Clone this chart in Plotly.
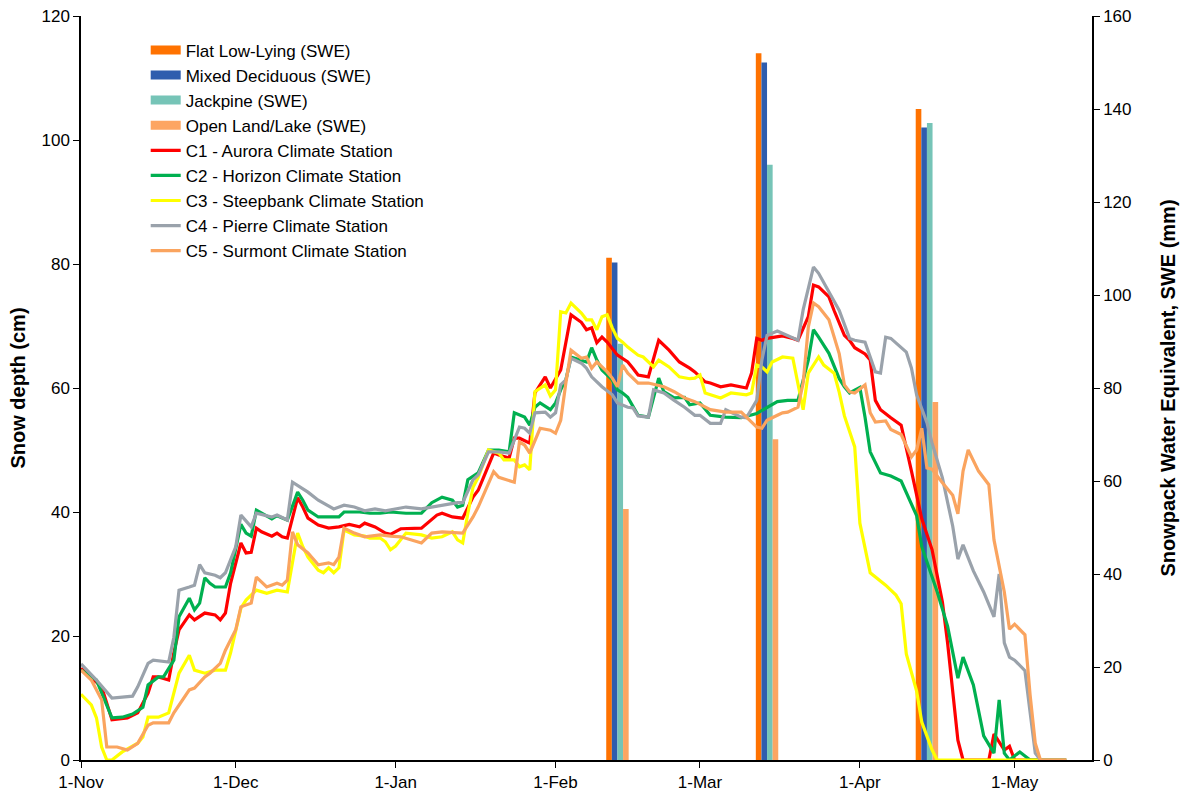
import pandas as pd
import plotly.graph_objects as go

BASE = pd.Timestamp("2008-11-01")

# ---- SWE survey bars (mm, right axis) ----
survey_dates = ["2009-02-13", "2009-03-14", "2009-04-14"]
swe_flat = [108, 152, 140]
swe_mixed = [107, 150, 136]
swe_jackpine = [89.5, 128, 137]
swe_open = [54, 69, 77]

# ---- Snow depth lines (cm, left axis); days since 1-Nov ----
c1_days = [0, 4, 6, 9, 11, 13, 14, 15, 17, 18, 19, 21, 22, 24, 26, 27, 28, 29, 31, 32, 33, 34, 35, 37, 38, 39, 40,
           42, 43, 44, 46, 48, 50, 52, 54, 55, 57, 59, 60, 62, 66, 69, 70, 72, 74, 76, 77, 79, 80, 81, 83, 84, 85, 87,
           88, 90, 91, 93, 94, 95, 97, 98, 99, 100, 101, 102, 104, 106, 107, 108, 110, 112, 114, 116, 118, 119, 121,
           122, 124, 126, 129, 130, 131, 132, 133, 136, 138, 139, 141, 142, 143, 145, 146, 147, 148, 149, 150, 152,
           153, 154, 155, 157, 159, 161, 163, 165, 167, 168, 170, 171, 176, 177, 179, 180, 181, 191]
c1_vals = [14.8, 11.8, 6.5, 6.8, 7.6, 10.8, 13.4, 13.4, 12.9, 17.3, 21, 23.4, 22.6, 23.7, 23.4, 22.6, 23.7, 28.5, 35,
           33.4, 33.5, 37.4, 36.8, 36.1, 36.6, 36, 35.8, 42.3, 40.8, 39, 37.9, 37.4, 37.6, 38, 37.6, 38.2, 37.6, 36.6,
           36.4, 37.3, 37.4, 39.5, 39.8, 39.2, 39, 42.4, 43.5, 47.3, 49.5, 49.2, 48.7, 51.9, 51.9, 51.1, 59.2, 61.8, 60,
           62.9, 67.3, 71.8, 70.6, 69.4, 69.7, 67.3, 68.2, 67.4, 65.3, 64.2, 63.2, 62.1, 61.8, 67.7, 66.1, 64.2, 63.2,
           62.6, 61, 60.8, 60.2, 60.5, 60, 62.4, 68, 67.7, 68, 68.4, 68, 67.7, 71.5, 76.6, 76.3, 74.7, 72.5, 70.5,
           68.5, 67.7, 66.5, 65.5, 64.5, 58, 56.5, 55.2, 54, 46.6, 38.9, 33.9, 25.5, 18.9, 3.2, 0, 0, 4.2, 1.6, 2.2,
           0, 0]

c2_days = [0, 3, 6, 8, 10, 12, 13, 15, 16, 18, 19, 21, 22, 23, 24, 25, 26, 28, 29, 30, 31, 32, 33, 34, 35, 37, 38, 40,
           42, 43, 44, 46, 48, 50, 51, 54, 56, 58, 60, 63, 66, 68, 70, 72, 73, 74, 75, 77, 79, 81, 83, 84, 86, 87, 88,
           89, 91, 92, 93, 94, 95, 97, 98, 99, 100, 101, 103, 104, 105, 106, 108, 110, 112, 113, 115, 117, 118, 120,
           122, 125, 128, 131, 133, 135, 137, 139, 141, 142, 143, 145, 147, 148, 149, 151, 152, 153, 155, 157, 159,
           162, 163, 166, 168, 170, 171, 173, 175, 177, 178, 179, 180, 182, 184, 191]
c2_vals = [14.5, 12.9, 6.8, 6.9, 7.4, 8.5, 12.1, 13.4, 13.4, 16.1, 23.1, 26.1, 24.2, 25.3, 29.4, 28.5, 27.9, 27.9,
           30.2, 33.9, 38, 36.6, 36.1, 40.3, 39.8, 38.9, 39.4, 38.7, 43.2, 41.9, 40.3, 39.2, 39.2, 39.2, 40, 40, 39.8,
           39.8, 40, 39.8, 39.8, 41.5, 42.4, 41.9, 40.8, 41.1, 45.2, 46.3, 50, 50, 49.7, 56, 55.3, 54, 56.9, 57.6,
           56.5, 57.6, 59.7, 61.3, 65, 64.5, 64.2, 66.5, 64.5, 62.9, 61.3, 59.7, 59.2, 58.5, 55.6, 55.3, 61.6, 59.4,
           58.4, 58.5, 57.3, 57.6, 55.6, 55.3, 55.2, 55.9, 56.8, 57.8, 58, 58, 64.5, 69.4, 68.2, 65.6, 61.5, 60.2,
           59.2, 60.1, 55.3, 49.7, 46.3, 45.8, 45, 39.4, 34.4, 27.1, 21.6, 13.2, 16.6, 12.1, 3.9, 1.1, 9.7, 1.1, 0,
           1.3, 0, 0]

c3_days = [0, 2, 3, 4, 5, 6, 8, 11, 12, 13, 15, 17, 19, 21, 22, 24, 26, 28, 29, 31, 32, 34, 36, 38, 40, 41, 42, 43,
           44, 46, 47, 48, 49, 50, 51, 53, 55, 56, 58, 59, 60, 61, 62, 63, 66, 68, 70, 72, 73, 74, 75, 76, 77, 79, 81,
           82, 84, 85, 86, 87, 88, 90, 91, 92, 93, 94, 95, 97, 98, 99, 100, 101, 102, 103, 104, 105, 106, 108, 109,
           111, 112, 114, 116, 118, 119, 120, 121, 122, 124, 126, 129, 130, 131, 132, 133, 134, 136, 138, 139, 140,
           141, 143, 144, 146, 147, 148, 150, 151, 153, 156, 158, 159, 160, 162, 163, 165, 166, 191]
c3_vals = [10.6, 8.9, 6.8, 2.1, 0, 0, 1.3, 2.7, 3.7, 6.9, 6.9, 7.6, 14, 16.9, 14.5, 14, 14.5, 14.5, 17.3, 24.5, 25.8,
           27.4, 26.9, 27.4, 27.1, 31.8, 36.6, 34.4, 32.7, 30.6, 30.2, 31, 30.2, 31, 37.1, 36.3, 36.1, 35.8, 35.8,
           35.2, 33.9, 34.5, 35.5, 36.6, 36.3, 35.8, 36, 36.8, 35.5, 35, 39.8, 44, 45.6, 50, 49.5, 48.4, 48.4, 47.3,
           47.6, 46.8, 59.4, 60.5, 58.7, 59.7, 72.3, 72.1, 73.7, 72.1, 71, 71, 69.4, 71.5, 71.8, 69.7, 68, 67.4, 66.6,
           65.3, 65, 63.4, 64.5, 63.4, 61.8, 61.5, 61.6, 62.1, 59.2, 58.9, 58.4, 59.2, 58.9, 59.2, 63.7, 63.4, 62.6,
           64.2, 65, 64.8, 60.8, 56.5, 62.4, 65, 63.7, 62.4, 59.3, 55.5, 50.5, 38.2, 30.2, 28.2, 26.6, 25.2, 17.1,
           11.1, 6.1, 1.6, 0, 0]

c4_days = [0, 3, 6, 8, 10, 11, 13, 14, 17, 18, 19, 21, 22, 23, 24, 26, 27, 28, 30, 31, 33, 34, 37, 38, 40, 41, 44, 46,
           49, 51, 53, 55, 57, 59, 61, 63, 66, 68, 70, 73, 74, 76, 77, 79, 81, 83, 85, 86, 87, 88, 90, 91, 92, 93, 94,
           95, 97, 98, 99, 101, 103, 104, 106, 107, 108, 110, 111, 113, 115, 117, 119, 120, 122, 124, 125, 128, 129,
           131, 132, 133, 135, 137, 139, 140, 142, 143, 145, 147, 149, 150, 152, 153, 154, 155, 156, 157, 160, 161,
           162, 164, 165, 167, 169, 170, 171, 173, 175, 177, 178, 179, 180, 181, 183, 184, 185, 186, 191]
c4_vals = [15.5, 12.9, 10, 10.2, 10.3, 11.8, 15.6, 16.1, 15.8, 19.8, 27.4, 27.9, 28.2, 31.5, 30.2, 29.8, 29.4, 30.2,
           34.4, 39.5, 37.6, 39.8, 39.2, 39.5, 38.7, 44.8, 43.2, 41.9, 40.5, 41.1, 40.8, 40.2, 40.5, 40.2, 40.5, 40.8,
           40.5, 40.8, 41.1, 41.5, 41.5, 45.2, 46, 49.7, 49.7, 49.5, 53.7, 53.5, 52.7, 56, 56.1, 55.3, 56, 60.5, 61.3,
           64.8, 64, 63.2, 61.8, 60.2, 58.9, 57.6, 56.9, 56.8, 55.5, 55.3, 59.7, 59.2, 58, 56.9, 55.6, 55.6, 54.3,
           54.3, 56.5, 55.3, 55.2, 58, 64.5, 68.5, 69.2, 68.5, 67.7, 72.6, 79.5, 78.5, 75.5, 72.5, 68, 67.7, 67.4, 65,
           62.6, 62.4, 68.2, 68, 65.8, 63.2, 58.9, 54.4, 51.1, 45.5, 37.7, 32.4, 34.7, 30.5, 27.1, 23.1, 30, 18.9,
           16.6, 16.1, 14.4, 7.7, 1.1, 0, 0]

c5_days = [0, 2, 4, 5, 7, 9, 11, 13, 14, 17, 18, 20, 21, 22, 24, 25, 27, 28, 30, 31, 32, 33, 34, 36, 38, 39, 40, 41,
           42, 44, 46, 48, 49, 50, 51, 53, 55, 58, 60, 62, 66, 68, 70, 73, 74, 76, 77, 80, 81, 84, 85, 86, 87, 89, 91,
           92, 93, 94, 95, 97, 98, 99, 100, 102, 103, 104, 105, 106, 108, 110, 113, 115, 117, 119, 121, 122, 125,
           128, 129, 131, 132, 133, 135, 136, 137, 139, 140, 141, 142, 143, 145, 146, 147, 148, 149, 150, 152, 153,
           154, 156, 157, 159, 161, 162, 163, 164, 165, 167, 169, 170, 171, 172, 174, 176, 177, 179, 180, 181, 183,
           184, 185, 186, 191]
c5_vals = [14.5, 12.9, 9.7, 2.1, 2.1, 1.6, 2.7, 5.6, 6, 6, 7.6, 10, 11.3, 11.6, 13.4, 14, 15.6, 17.7, 21, 24.7, 25,
           25.3, 29.5, 27.9, 28.5, 28.2, 29, 36.8, 34.7, 33.4, 31.5, 31.8, 31.5, 32.7, 37.4, 36.6, 36, 36.3, 36.1, 36,
           35, 36.6, 36.8, 36.6, 36.6, 39.2, 40.8, 46.5, 45.6, 44.8, 51.3, 50.8, 49.5, 53.5, 53.2, 52.7, 54.8, 60.8,
           66.1, 64.8, 65, 63.2, 64.2, 62.6, 61.6, 60.2, 63.7, 62.4, 60.8, 60.8, 60.2, 59.4, 58.4, 57.8, 56.9, 56.5,
           56.1, 56.1, 55.3, 53.7, 53.5, 54.8, 55.6, 56, 56.1, 56.9, 60.8, 69.8, 73.7, 73.1, 71, 68.2, 65.5, 60.5,
           59.4, 59.2, 60.5, 56, 54.5, 54.7, 53.3, 52.5, 48.9, 50, 53.5, 47.1, 46.9, 44.7, 42.7, 39.7, 46.6, 50,
           46.6, 44.4, 35.5, 27.1, 21.1, 21.9, 20.2, 10.5, 2.7, 0, 0]

bar_series = [
    ("Flat Low-Lying (SWE)", swe_flat, "#FF7200"),
    ("Mixed Deciduous (SWE)", swe_mixed, "#2F5DAE"),
    ("Jackpine (SWE)", swe_jackpine, "#76C4B7"),
    ("Open Land/Lake (SWE)", swe_open, "#FDA562"),
]
line_series = [
    ("C1 - Aurora Climate Station", c1_days, c1_vals, "#FF0000"),
    ("C2 - Horizon Climate Station", c2_days, c2_vals, "#00B050"),
    ("C3 - Steepbank Climate Station", c3_days, c3_vals, "#FFFF00"),
    ("C4 - Pierre Climate Station", c4_days, c4_vals, "#9AA2AB"),
    ("C5 - Surmont Climate Station", c5_days, c5_vals, "#FAA45F"),
]

FONT = "Liberation Sans, Arial, sans-serif"
fig = go.Figure()

# bars (drawn on the primary y axis so that the lines overlay them)
for name, vals, color in bar_series:
    fig.add_trace(go.Bar(x=pd.to_datetime(survey_dates), y=vals, name=name, showlegend=False,
                         legendgroup=name, marker=dict(color=color, line=dict(width=0)), yaxis="y"))
# legend entries for the bars drawn as wide flat swatches
for name, vals, color in bar_series:
    fig.add_trace(go.Scatter(x=[None], y=[None], name=name, mode="lines", legendgroup=name,
                             line=dict(color=color, width=9), yaxis="y2"))

for name, days, vals, color in line_series:
    x = BASE + pd.to_timedelta(days, unit="D")
    fig.add_trace(go.Scatter(x=x, y=vals, name=name, mode="lines",
                             line=dict(color=color, width=3.2), yaxis="y2"))

fig.update_layout(
    width=1183, height=793,
    margin=dict(l=81, r=91, t=16, b=33, autoexpand=False),
    paper_bgcolor="white", plot_bgcolor="white",
    font=dict(family=FONT, size=17, color="black"),
    barmode="group", bargap=0.85, bargroupgap=0,
    showlegend=True,
    legend=dict(x=0.064, y=0.978, xanchor="left", yanchor="top",
                bgcolor="rgba(0,0,0,0)", font=dict(size=17, family=FONT),
                itemwidth=30, tracegroupgap=0),
    xaxis=dict(type="date", range=["2008-11-01", "2009-05-16"],
               tick0="2008-11-01", dtick="M1", tickformat="%-d-%b",
               showline=True, linecolor="black", linewidth=1.5,
               ticks="outside", ticklen=6, tickcolor="black",
               showgrid=False, zeroline=False, tickfont=dict(size=17), automargin=False),
    yaxis=dict(range=[0, 160], dtick=20, side="right",
               showline=True, linecolor="black", linewidth=1.5,
               ticks="outside", ticklen=6, tickcolor="black", automargin=False,
               showgrid=False, zeroline=False, tickfont=dict(size=17),
               title=dict(text="<b>Snowpack Water Equivalent, SWE (mm)</b>",
                          font=dict(size=20), standoff=30)),
    yaxis2=dict(range=[0, 120], dtick=20, side="left", overlaying="y",
                showline=True, linecolor="black", linewidth=1.5,
                ticks="outside", ticklen=6, tickcolor="black", automargin=False,
                showgrid=False, zeroline=False, tickfont=dict(size=17),
                title=dict(text="<b>Snow depth (cm)</b>", font=dict(size=20), standoff=10)),
)

fig.write_html("out.html", config={"displayModeBar": False},
               post_script="document.body.style.margin='0';")
